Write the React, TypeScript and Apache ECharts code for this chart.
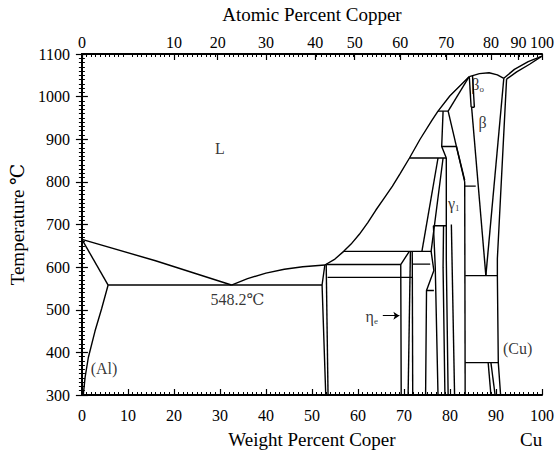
import React, { useEffect, useRef } from "react";
import * as echarts from "echarts";

// ---- axis data ----
const tempTicks = { min: 300, max: 1100, step: 100 };
const weightTicks = { min: 0, max: 100, step: 10 };
const atomicLabels = ["0", "10", "20", "30", "40", "50", "60", "70", "80", "90", "100"];
// weight-percent positions where the atomic-percent labels sit
const atomicPositions = [0, 20, 29.5, 40, 50.7, 59.3, 69.2, 79.2, 88.9, 94.9, 100];

// ---- phase boundaries [wt% Cu, T °C] ----
const alLiquidus = [[0, 665], [16, 615], [32.5, 558]];
const alSolidus = [[0, 665], [5.7, 558]];
const alSolvus = [[5.7, 558], [4.3, 503], [2.85, 450], [1.4, 388], [0.7, 342], [0.3, 300]];
const eutectic = [[5.7, 558], [52.2, 558]];
const mainLiquidus = [
  [32.5, 558], [36, 573], [40, 586], [44, 595], [48, 601], [52.8, 605], [55, 619], [56.9, 637],
  [58.5, 654], [60.3, 677], [62.1, 704], [63.9, 734], [65.7, 762], [67.5, 790], [69.2, 820],
  [71.2, 856], [73.5, 900], [76, 943], [77.4, 966], [80, 1002], [82.4, 1028], [84.2, 1047],
];
const betaDome = [[84.2, 1047], [86.4, 1054], [88.5, 1056], [90.3, 1051], [91.7, 1043]];
const cuLiquidus = [[91.7, 1043], [94, 1064], [97, 1082], [100, 1095]];
const cuSolidus = [[92.3, 1041], [94.5, 1058], [97.3, 1076], [100, 1095]];
const thetaLeft = [[52.8, 605], [52.2, 558], [53.0, 300]];
const thetaRight = [[53.1, 605], [53.5, 300]];
const h606 = [[53.1, 606], [69.3, 606]];
const h637 = [[56.9, 637], [76.0, 637]];
const h576 = [[53.4, 576], [71.8, 576]];
const etaLeft = [[71.1, 636], [69.3, 606], [69.4, 300]];
const etaRight = [[71.4, 637], [70.9, 300]];
const zetaLeft = [[71.8, 637], [71.9, 300]];
const h607 = [[71.8, 607], [75.7, 607]];
const epsLine1 = [[73.9, 637], [77.4, 856]];
const epsLine2 = [[78.5, 856], [75.9, 637], [76.5, 592], [74.9, 545], [74.7, 300]];
const h545 = [[74.9, 545], [76.5, 545]];
const h856 = [[71.2, 856], [79.2, 856]];
const h697 = [[76.4, 697], [79.2, 697]];
const deltaLeft = [[76.4, 697], [76.8, 600], [77.4, 300]];
const deltaRight = [[78.6, 697], [78.5, 600], [78.9, 300]];
const gamma1Left = [[79.2, 856], [79.2, 620], [79.6, 300]];
const gamma1Mid = [[80.3, 700], [81.0, 300]];
const h966 = [[77.4, 966], [79.6, 966]];
const gamma0Solidus = [[84.0, 1044], [79.6, 966]];
const gamma0Left = [[78.5, 966], [78.2, 883], [79.2, 856]];
const h883 = [[78.2, 883], [81.4, 883]];
const gammaDiag1 = [[79.6, 966], [83.2, 800]];
const gammaDiag2 = [[81.4, 883], [83.2, 804]];
const v83 = [[83.2, 800], [83.3, 300]];
const h790 = [[83.2, 790], [85.6, 790]];
const beta0a = [[84.2, 1047], [84.6, 975]];
const beta0b = [[84.9, 1049], [85.3, 975]];
const beta0c = [[84.6, 975], [85.3, 975]];
const betaLeft = [[84.7, 975], [87.8, 580]];
const betaRight = [[91.7, 1043], [87.8, 580]];
const cuSolvus = [[92.3, 1041], [90.3, 620], [90.3, 580], [90.5, 376], [91.0, 300]];
const h580 = [[83.3, 580], [90.3, 580]];
const h376 = [[83.3, 376], [90.6, 376]];
const alpha2Left = [[88.3, 376], [88.9, 300]];
const alpha2Right = [[88.9, 376], [89.8, 300]];

const boundaries = [
  alLiquidus, alSolidus, alSolvus, eutectic, mainLiquidus, betaDome, cuLiquidus, cuSolidus,
  thetaLeft, thetaRight, h606, h637, h576, etaLeft, etaRight, zetaLeft, h607, epsLine1, epsLine2,
  h545, h856, h697, deltaLeft, deltaRight, gamma1Left, gamma1Mid, h966, gamma0Solidus, gamma0Left,
  h883, gammaDiag1, gammaDiag2, v83, h790, beta0a, beta0b, beta0c, betaLeft, betaRight, cuSolvus,
  h580, h376, alpha2Left, alpha2Right,
];

// ---- phase labels ----
const phaseLabels = [
  { text: "{a|L}", at: [30, 878] },
  { text: "{a|548.2℃}", at: [33.8, 523] },
  { text: "{a|(Al)}", at: [4.8, 361] },
  { text: "{a|(Cu)}", at: [94.7, 409] },
  { text: "{a|η}{s|e}", at: [63.0, 484] },
  { text: "{a|γ}{s|1}", at: [80.8, 750] },
  { text: "{a|β}{s|o}", at: [86.0, 1028] },
  { text: "{a|β}", at: [87.1, 939] },
];
const etaArrow = [[65.4, 486], [69.0, 486]];

const serif = "'Liberation Serif', 'DejaVu Serif', serif";

export default function App() {
  const ref = useRef<HTMLDivElement>(null);
  useEffect(() => {
    if (!ref.current) return;
    const chart = echarts.init(ref.current, undefined, { renderer: "svg" });
    const axisLine = { show: true, lineStyle: { color: "#000", width: 2 } };
    const tickStyle = { inside: true, length: 6, lineStyle: { color: "#000", width: 1.2 } };
    const minor = { show: true, splitNumber: 10, length: 3, lineStyle: { color: "#000", width: 1 } };
    const labelFont = { color: "#000", fontFamily: serif, fontSize: 16 };
    const nameFont = { color: "#000", fontFamily: serif, fontSize: 19 };

    const option: any = {
      animation: false,
      backgroundColor: "#fff",
      grid: { left: 75, right: 18, top: 52, bottom: 56 },
      xAxis: [
        {
          type: "value", position: "bottom", min: weightTicks.min, max: weightTicks.max,
          interval: weightTicks.step, axisLine, axisTick: tickStyle, minorTick: minor,
          splitLine: { show: false }, axisLabel: { ...labelFont, margin: 12 },
          name: "Weight Percent Coper", nameLocation: "middle", nameGap: 35, nameTextStyle: nameFont,
        },
        {
          type: "value", position: "top", min: weightTicks.min, max: weightTicks.max,
          interval: weightTicks.step, axisLine,
          axisTick: { ...tickStyle, customValues: atomicPositions },
          minorTick: minor, splitLine: { show: false },
          axisLabel: {
            ...labelFont, margin: 4, customValues: atomicPositions,
            formatter: (v: number) => {
              const i = atomicPositions.findIndex((p) => Math.abs(p - v) < 1e-6);
              return i >= 0 ? atomicLabels[i] : "";
            },
          },
          name: "Atomic Percent Copper", nameLocation: "middle", nameGap: 30, nameTextStyle: nameFont,
        },
      ],
      yAxis: [
        {
          type: "value", position: "left", min: tempTicks.min, max: tempTicks.max,
          interval: tempTicks.step, axisLine, axisTick: tickStyle, minorTick: minor,
          splitLine: { show: false },
          axisLabel: { ...labelFont, margin: 12, formatter: (v: number) => String(v) },
          name: "Temperature ℃", nameLocation: "middle", nameGap: 43, nameRotate: 90,
          nameTextStyle: nameFont,
        },
        {
          type: "value", position: "right", min: tempTicks.min, max: tempTicks.max,
          interval: tempTicks.step, axisLine, axisTick: tickStyle, minorTick: minor,
          splitLine: { show: false }, axisLabel: { show: false },
        },
      ],
      graphic: [
        {
          type: "text", left: 520, top: 430,
          style: { text: "Cu", fill: "#000", font: `19px ${serif}` },
        },
      ],
      series: [
        ...boundaries.map((d) => ({
          type: "line", data: d, symbol: "none", silent: true, xAxisIndex: 0, yAxisIndex: 0,
          lineStyle: { color: "#000", width: 1.4 }, z: 2,
        })),
        {
          type: "line", data: etaArrow, symbol: "none", silent: true, lineStyle: { width: 0, opacity: 0 },
          markLine: {
            silent: true, symbol: ["none", "arrow"], symbolSize: 6,
            lineStyle: { color: "#000", width: 1, type: "solid" }, label: { show: false },
            data: [[{ coord: etaArrow[0] }, { coord: etaArrow[1] }]],
          },
        },
        {
          type: "scatter", symbolSize: 0, silent: true, z: 5,
          itemStyle: { color: "#000" },
          data: phaseLabels.map((p) => ({ value: p.at, label: { formatter: p.text } })),
          label: {
            show: true, position: [0, 0], align: "center", verticalAlign: "middle",
            color: "#000", textBorderWidth: 0,
            rich: {
              a: { fontFamily: serif, fontSize: 16, color: "#000", textBorderWidth: 0 },
              s: { fontFamily: serif, fontSize: 9, color: "#000", textBorderWidth: 0, padding: [9, 0, 0, 0] },
            },
          },
        },
      ],
    };
    chart.setOption(option);
    return () => chart.dispose();
  }, []);
  return <div ref={ref} style={{ position: "fixed", left: 0, top: 0, width: 560, height: 454 }} />;
}
